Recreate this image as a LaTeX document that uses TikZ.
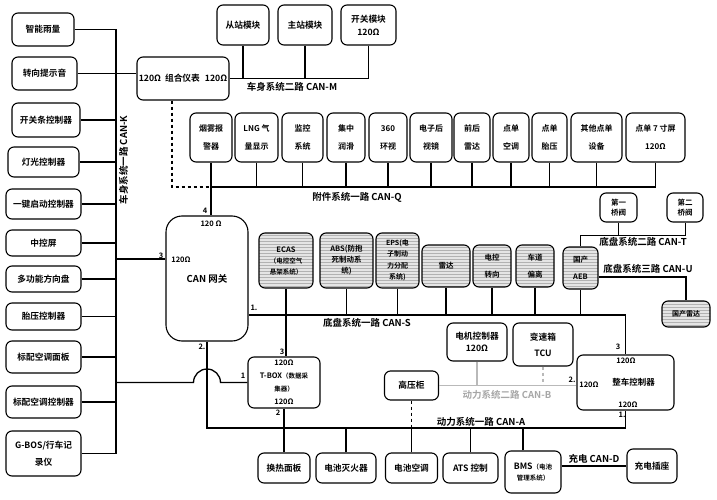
\documentclass[tikz,border=0pt]{standalone}
\usepackage{fontspec}
\setmainfont{Noto Sans CJK SC}[BoldFont={Noto Sans CJK SC Bold}]
\usetikzlibrary{positioning}
\usetikzlibrary{calc}
\usetikzlibrary{patterns}

\begin{document}
\begin{tikzpicture}[x=1pt,y=-1pt,line width=1.3pt,
	unit node/.style={draw,line width=1.1pt,rounded corners=6pt,align=center,inner sep=1pt,
		font=\bfseries\fontsize{8.7}{11}\selectfont},
	q node/.style={unit node,minimum height=49pt,font=\bfseries\fontsize{8}{18}\selectfont},
	chassis node/.style={unit node,preaction={fill=gray!20},pattern=horizontal lines,pattern color=gray!60,
		font=\bfseries\fontsize{7.5}{11}\selectfont},
	bus label/.style={font=\bfseries\fontsize{9.5}{10}\selectfont,inner sep=1pt},
	port label/.style={font=\bfseries\fontsize{7.5}{8}\selectfont,inner sep=0.5pt}]
	
	\useasboundingbox (0,0) rectangle (717,500);
	
	% body system CAN-K (left column)
	\node[unit node,minimum width=62pt,minimum height=33pt] (yuliang) at (43,29.5) {智能雨量};
	\node[unit node,minimum width=65pt,minimum height=33pt] (tishiyin) at (44.5,73.5) {转向提示音};
	\node[unit node,minimum width=68pt,minimum height=34pt] (kaiguantiao) at (46,120) {开关条控制器};
	\node[unit node,minimum width=71pt,minimum height=30pt] (dengguang) at (43.5,162) {灯光控制器};
	\node[unit node,minimum width=75pt,minimum height=30pt] (yijian) at (43.5,204) {一键启动控制器};
	\node[unit node,minimum width=75pt,minimum height=26pt] (zhongkong) at (43.5,243) {中控屏};
	\node[unit node,minimum width=75pt,minimum height=26pt] (fangxiang) at (43.5,279) {多功能方向盘};
	\node[unit node,minimum width=75pt,minimum height=27pt] (taiya) at (43.5,316.5) {胎压控制器};
	\node[unit node,minimum width=75pt,minimum height=32pt] (kongtiaomb) at (43.5,357) {标配空调面板};
	\node[unit node,minimum width=75pt,minimum height=32pt] (kongtiaokz) at (43.5,402) {标配空调控制器};
	\node[unit node,minimum width=75pt,minimum height=45pt] (gbos) at (43.5,453.5) {G-BOS/行车记\\[6pt]录仪};
	
	\coordinate (ktop) at (116,29.5);
	\coordinate (kbot) at (116,453.5);
	\draw (ktop) -- (kbot);
	\foreach \n in {yuliang,kaiguantiao,dengguang,yijian,zhongkong,fangxiang,taiya,kongtiaomb,kongtiaokz,gbos}
		\draw (\n.east) -- (\n.east -| ktop);
	\node[bus label,rotate=90] (klabel) at (123.5,160) {车身系统一路 CAN-K};
	
	% body system CAN-M
	\node[unit node,minimum width=92pt,minimum height=43pt,font=\bfseries\fontsize{8.7}{10}\selectfont] (yibiao) at (183,78.5)
		{120Ω\hspace{4pt}组合仪表\hspace{5pt}120Ω};
	\node[unit node,minimum width=52pt,minimum height=40pt] (congzhan) at (243,25) {从站模块};
	\node[unit node,minimum width=54pt,minimum height=40pt] (zhuzhan) at (305,25) {主站模块};
	\node[unit node,minimum width=55pt,minimum height=40pt] (kaiguanmk) at (368.5,25) {开关模块\\[2pt]120Ω};
	\draw (tishiyin.east) -- (tishiyin.east -| yibiao.west);
	\draw (yibiao.east) -- (yibiao.east -| kaiguanmk.south);
	\foreach \n in {congzhan,zhuzhan,kaiguanmk}
		\draw (\n.south) -- (\n.south |- yibiao.east);
	\node[bus label] (mlabel) at (292,87) {车身系统二路 CAN-M};
	
	% accessory system CAN-Q
	\node[q node,minimum width=42pt] (yanwu) at (211,137.5) {烟雾报\\警器};
	\node[q node,minimum width=43pt] (lng) at (256.5,137.5) {LNG 气\\量显示};
	\node[q node,minimum width=41pt] (jiankong) at (302.5,137.5) {监控\\系统};
	\node[q node,minimum width=38pt] (runhua) at (346,137.5) {集中\\润滑};
	\node[q node,minimum width=38pt] (huanshi) at (388,137.5) {360\\环视};
	\node[q node,minimum width=42pt] (houshi) at (431,137.5) {电子后\\视镜};
	\node[q node,minimum width=36pt] (qhleida) at (472,137.5) {前后\\雷达};
	\node[q node,minimum width=36pt] (ddkongtiao) at (511,137.5) {点单\\空调};
	\node[q node,minimum width=35pt] (ddtaiya) at (549.5,137.5) {点单\\胎压};
	\node[q node,minimum width=51pt] (qita) at (596.5,137.5) {其他点单\\设备};
	\node[q node,minimum width=59pt] (pingmu) at (655.5,137.5) {点单 7 寸屏\\120Ω};
	
	\coordinate (qbus) at (0,187);
	\coordinate (qdash) at (172,187);
	\draw (yanwu.south |- qbus) -- (pingmu.south |- qbus);
	\foreach \n in {yanwu,lng,jiankong,runhua,huanshi,houshi,qhleida,ddkongtiao,ddtaiya,qita,pingmu}
		\draw (\n.south) -- (\n.south |- qbus);
	\draw[dashed,line width=1.1pt] (qdash |- yibiao.south) -- (qdash) -- (yanwu.south |- qbus);
	\node[bus label] (qlabel) at (357,197) {附件系统一路 CAN-Q};
	
	% gateway
	\node[unit node,rounded corners=16pt,minimum width=82pt,minimum height=125pt,
		font=\bfseries\fontsize{9.5}{10}\selectfont] (wangguan) at (207,278.5) {CAN 网关};
	\coordinate (gw3) at ($(wangguan.west)+(0,-19.5)$);
	\coordinate (gw1) at ($(wangguan.east)+(0,36.5)$);
	\draw (yanwu.south |- qbus) -- (yanwu.south |- wangguan.north);
	\draw (gw3) -- (gw3 -| ktop);
	\node[port label] (g4) at (205,211) {4};
	\node[port label] (g4r) at (211,224) {120 Ω};
	\node[port label] (g3) at (161,256) {3};
	\node[port label] (g3r) at (181,260) {120Ω};
	\node[port label] (g1) at (254,308) {1.};
	\node[port label] (g2) at (202,347) {2.};
	
	% chassis system CAN-S
	\node[chassis node,minimum width=54pt,minimum height=55pt] (ecas) at (286,260.5)
		{ECAS\\{\fontsize{6.5}{9}\selectfont（电控空气}\\{\fontsize{6.5}{9}\selectfont 悬架系统）}};
	\node[chassis node,minimum width=53pt,minimum height=55pt] (abs) at (346.5,260.5) {ABS(防抱\\死制动系\\统)};
	\node[chassis node,minimum width=43pt,minimum height=55pt,font=\bfseries\fontsize{7}{11.5}\selectfont] (eps) at (397.5,260.5)
		{EPS(电\\子制动\\力分配\\系统)};
	\node[chassis node,minimum width=48pt,minimum height=42pt] (radar) at (446,266) {雷达};
	\node[chassis node,minimum width=38pt,minimum height=42pt] (dkzx) at (492,266) {电控\\[6pt]转向};
	\node[chassis node,minimum width=38pt,minimum height=42pt] (cdpl) at (535,266) {车道\\[6pt]偏离};
	\node[chassis node,minimum width=35pt,minimum height=42pt] (aeb) at (580.5,268) {国产\\[6pt]AEB};
	\node[chassis node,minimum width=48pt,minimum height=26pt,font=\bfseries\fontsize{7}{8}\selectfont] (gcleida) at (686,314) {国产雷达};
	
	\foreach \n in {abs,eps,radar,dkzx,cdpl,aeb}
		\draw (\n.south) -- (\n.south |- gw1);
	\node[bus label] (slabel) at (367,323) {底盘系统一路 CAN-S};
	
	% chassis system CAN-T / CAN-U
	\node[unit node,minimum width=37pt,minimum height=29pt,font=\bfseries\fontsize{7.5}{10}\selectfont] (qiao1) at (618.5,207.5) {第一\\桥阀};
	\node[unit node,minimum width=36pt,minimum height=29pt,font=\bfseries\fontsize{7.5}{10}\selectfont] (qiao2) at (685,207.5) {第二\\桥阀};
	\coordinate (tbus) at (0,235);
	\draw[line width=0.9pt] (aeb.north) -- (aeb.north |- tbus) -- (qiao2.south |- tbus) -- (qiao2.south);
	\draw[line width=0.9pt] (qiao1.south) -- (qiao1.south |- tbus);
	\node[bus label] (tlabel) at (643,242) {底盘系统二路 CAN-T};
	\draw ([yshift=-9pt]aeb.east) -| (gcleida.north);
	\node[bus label] (ulabel) at (648,269) {底盘系统三路 CAN-U};
	
	% T-BOX
	\node[unit node,minimum width=72pt,minimum height=51pt,font=\bfseries\fontsize{7.5}{13}\selectfont] (tbox) at (284,382.5)
		{120Ω\\T-BOX{\fontsize{6.5}{9}\selectfont（数据采}\\{\fontsize{6.5}{9}\selectfont 集器）}\\120Ω};
	\node[port label] (t3) at (282,352) {3};
	\node[port label] (t2) at (278,413) {2};
	\node[port label] (t1) at (243,376) {1};
	\draw (ecas.south) -- (ecas.south |- tbox.north);
	\draw (tbox.west -| ktop) -- ($(tbox.west -| wangguan.south)+(-13.5,0)$)
		arc[start angle=180,end angle=0,radius=13.5pt] -- (tbox.west);
	
	% power system CAN-A / CAN-B
	\node[unit node,minimum width=97pt,minimum height=55pt,font=\bfseries\fontsize{8.5}{10}\selectfont] (zhengche) at (625.5,382.5)
		{\hspace*{16pt}整车控制器};
	\node[port label] (z3r) at (626,361) {120Ω};
	\node[port label] (z2r) at (589,385) {120Ω};
	\node[port label] (z1r) at (628,405) {120Ω};
	\node[port label] (z3) at (618,347) {3};
	\node[port label] (z2) at (572,380) {2.};
	\node[port label] (z1) at (622,415) {1.};
	\draw (gw1) -| (zhengche.north);
	
	\node[unit node,minimum width=54pt,minimum height=29pt] (gaoya) at (411.5,385.5) {高压柜};
	\node[unit node,minimum width=60pt,minimum height=38pt] (dianji) at (477,342) {电机控制器\\[1pt]120Ω};
	\node[unit node,minimum width=60pt,minimum height=43pt] (biansu) at (543,344.5) {变速箱\\[5pt]TCU};
	
	\node[unit node,minimum width=52pt,minimum height=30pt] (huanre) at (284,468) {换热面板};
	\node[unit node,minimum width=60pt,minimum height=30pt] (miehuo) at (346,468) {电池灭火器};
	\node[unit node,minimum width=52pt,minimum height=30pt] (dckt) at (411.5,468) {电池空调};
	\node[unit node,minimum width=55pt,minimum height=30pt] (ats) at (470.5,468) {ATS 控制};
	\node[unit node,minimum width=56pt,minimum height=42pt] (bms) at (533,472)
		{BMS{\fontsize{6.5}{9}\selectfont（电池}\\{\fontsize{6.5}{9}\selectfont 管理系统）}};
	\node[unit node,minimum width=50pt,minimum height=34pt] (chazuo) at (652,466) {充电插座};
	
	\coordinate (abus) at (0,428);
	\coordinate (bmsin) at ($(bms.north)+(-10,0)$);
	\draw (wangguan.south) |- (zhengche.south |- abus) -- (zhengche.south);
	\draw (tbox.south) -- (huanre.north);
	\foreach \n in {miehuo,dckt,ats}
		\draw (\n.north) -- (\n.north |- abus);
	\draw (bmsin) -- (bmsin |- abus);
	\draw[dashed,line width=1.1pt] (gaoya.south) -- (gaoya.south |- abus);
	\node[bus label] (alabel) at (481,422) {动力系统一路 CAN-A};
	
	\draw[gray!55,line width=1.1pt] (gaoya.east) -- (gaoya.east -| zhengche.west);
	\draw[gray!55,line width=1.1pt] (dianji.south) -- (dianji.south |- gaoya.east);
	\draw[gray!55,line width=1.1pt,dashed] (biansu.south) -- (biansu.south |- gaoya.east);
	\node[bus label,text=gray!70] (blabel) at (507,395) {动力系统二路 CAN-B};
	
	% charging CAN-D
	\draw (chazuo.west -| bms.east) -- (chazuo.west);
	\node[bus label] (dlabel) at (594,459) {充电 CAN-D};
\end{tikzpicture}
\end{document}
